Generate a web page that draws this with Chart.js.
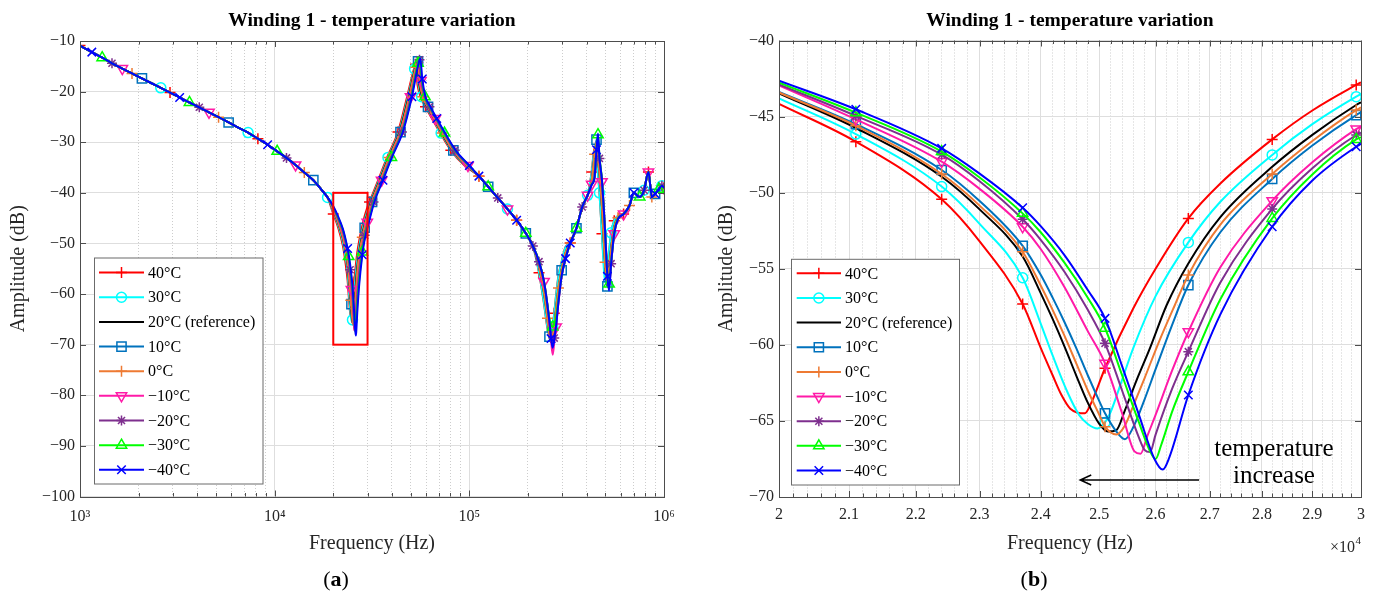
<!DOCTYPE html>
<html><head><meta charset="utf-8">
<script src="https://cdn.jsdelivr.net/npm/chart.js@4.4.1/dist/chart.umd.min.js"></script>
<style>
html,body{margin:0;padding:0;background:#fff;}
#wrap{position:relative;width:1375px;height:595px;overflow:hidden;background:#fff;}
#cA{position:absolute;left:0;top:0;}
#cB{position:absolute;left:690px;top:0;}
.cap{position:absolute;top:566px;font:22px "Liberation Serif","Times New Roman",serif;color:#000;transform:translateX(-50%);white-space:nowrap;}
</style></head>
<body><div id="wrap">
<canvas id="cA" width="690" height="595"></canvas>
<canvas id="cB" width="685" height="595"></canvas>
<div class="cap" style="left:336px">(<b>a</b>)</div>
<div class="cap" style="left:1034px">(<b>b</b>)</div>
</div>
<script>
// ================= DATA =================
const seriesLabels = ['40°C','30°C','20°C (reference)','10°C','0°C','\u221210°C','\u221220°C','\u221230°C','\u221240°C'];
const seriesColors = ['#FF0000','#00FFFF','#000000','#0072BD','#EE7A33','#FF1AA8','#7E2F8E','#00FF00','#0000FF'];
const seriesMarkers = ['cross','circle',null,'rect','cross','triangleDown','star','triangle','crossRot'];

// ---- plot (b): 2e4–3e4 Hz, [frequency Hz, amplitude dB] per series ----
const b40  = [[20000,-44.17],[21100,-46.65],[22400,-50.44],[23000,-53.2],[23700,-57.32],[24000,-60.2],[24200,-62.0],[24350,-63.3],[24500,-64.2],[24750,-64.5],[24850,-63.9],[25100,-61.54],[25600,-57.6],[26000,-55.0],[26600,-51.69],[27200,-49.4],[28200,-46.5],[29000,-44.6],[29900,-42.92],[30000,-42.75]];
const b30  = [[20000,-43.8],[21100,-46.15],[22400,-49.6],[23000,-52.05],[23700,-55.59],[24000,-58.6],[24200,-60.7],[24450,-63.1],[24650,-64.6],[24800,-65.2],[24970,-65.5],[25100,-65.1],[25200,-64.4],[25400,-62.3],[25600,-60.2],[26000,-56.8],[26600,-53.27],[27200,-50.6],[28200,-47.52],[29000,-45.5],[29900,-43.69],[30000,-43.52]];
const b20  = [[20000,-43.47],[21100,-45.75],[22400,-48.95],[23000,-51.1],[23700,-54.2],[24000,-56.6],[24200,-58.3],[24400,-60.1],[24600,-62.0],[24800,-63.8],[25000,-65.2],[25150,-65.7],[25300,-65.6],[25450,-64.3],[25650,-62.4],[25900,-60.2],[26200,-57.4],[26600,-54.65],[27200,-51.6],[28200,-48.3],[29000,-46.2],[29900,-44.24],[30000,-44.06]];
const b10  = [[20000,-43.38],[21100,-45.5],[22400,-48.51],[23000,-50.55],[23700,-53.5],[24000,-55.4],[24200,-56.9],[24400,-58.5],[24600,-60.2],[24800,-62.0],[25000,-63.7],[25100,-64.5],[25300,-65.7],[25450,-66.2],[25600,-65.4],[25800,-63.6],[26000,-61.6],[26300,-58.7],[26600,-56.07],[27200,-52.6],[28200,-49.1],[29000,-46.9],[29900,-44.9],[30000,-44.72]];
const b0   = [[20000,-43.42],[21100,-45.6],[22400,-48.77],[23000,-50.85],[23700,-53.88],[24000,-56.1],[24200,-57.7],[24400,-59.4],[24600,-61.2],[24800,-63.0],[25000,-64.6],[25100,-65.38],[25300,-65.9],[25450,-65.3],[25600,-64.0],[25800,-62.2],[26050,-59.9],[26350,-57.4],[26600,-55.41],[27200,-52.1],[28200,-48.77],[29000,-46.6],[29900,-44.57],[30000,-44.4]];
const bm10 = [[20000,-42.95],[21100,-45.18],[22400,-47.96],[23000,-49.75],[23700,-52.24],[24000,-53.7],[24400,-56.2],[24800,-59.1],[25100,-61.21],[25400,-64.5],[25620,-67.0],[25730,-67.15],[25850,-66.0],[26000,-64.6],[26300,-61.7],[26600,-59.14],[27200,-54.9],[28200,-50.53],[29000,-48.0],[29900,-45.82],[30000,-45.65]];
const bm20 = [[20000,-42.88],[21100,-44.95],[22400,-47.5],[23000,-49.25],[23700,-51.75],[24000,-53.1],[24400,-55.2],[24800,-57.7],[25100,-59.9],[25400,-63.0],[25700,-66.1],[25800,-66.9],[25900,-67.05],[26000,-65.9],[26300,-62.9],[26600,-60.45],[27200,-55.9],[28200,-51.07],[29000,-48.4],[29900,-46.21],[30000,-46.05]];
const bm30 = [[20000,-42.77],[21100,-44.74],[22400,-47.3],[23000,-49.0],[23700,-51.36],[24000,-52.6],[24400,-54.6],[24800,-56.9],[25100,-58.91],[25400,-62.0],[25700,-65.1],[25900,-67.0],[26000,-67.5],[26100,-66.6],[26300,-64.4],[26600,-61.77],[27200,-57.0],[28200,-51.69],[29000,-48.8],[29900,-46.5],[30000,-46.35]];
const bm40 = [[20000,-42.64],[21100,-44.52],[22400,-47.09],[23000,-48.75],[23700,-50.99],[24000,-52.2],[24400,-54.1],[24800,-56.4],[25100,-58.26],[25400,-61.4],[25700,-64.6],[25980,-67.5],[26130,-68.2],[26250,-67.4],[26600,-63.3],[27200,-58.0],[28200,-52.24],[29000,-49.2],[29900,-46.98],[30000,-46.8]];
const bSeries = [b40,b30,b20,b10,b0,bm10,bm20,bm30,bm40];
const markerFreqB = [21100,22400,23700,25100,26600,28200,29900];

// ---- plot (a): 1e3–1e6 Hz ----
const aFreqLow = [1000,1150,1300,1460,1650,1850,2080,2330,2600,2900,3250,3650,4100,4600,5150,5800,6500,7300,8200,9200,10300,11500,12800,14200,15800,17500,18700];
const aAmpLow  = [-10.9,-12.2,-13.3,-14.4,-15.45,-16.4,-17.4,-18.35,-19.25,-20.2,-21.15,-22.15,-23.1,-24.1,-25.05,-26.1,-27.1,-28.1,-29.3,-30.5,-31.8,-33.1,-34.5,-36.0,-37.5,-39.5,-40.9];
const mid40  = [[30720,-41.8],[34030,-37.5],[37810,-33.0],[43010,-28.0],[47920,-21.0],[51800,-15.7],[52930,-14.6],[54160,-18.6],[56240,-21.0],[59550,-23.0],[64270,-25.3],[70890,-28.2],[80340,-31.6],[94520,-34.6]];
const mid30  = [[31040,-41.8],[34380,-37.5],[38200,-33.0],[43460,-28.0],[48420,-21.0],[52340,-15.5],[53490,-14.4],[54730,-18.4],[56830,-21.0],[60170,-23.0],[64950,-25.3],[71630,-28.2],[81180,-31.6],[95510,-34.6]];
const mid20  = [[31280,-41.8],[34650,-37.5],[38500,-33.0],[43790,-28.0],[48800,-21.0],[52740,-15.3],[53900,-14.2],[55150,-18.2],[57270,-21.0],[60640,-23.0],[65450,-25.3],[72180,-28.2],[81810,-31.6],[96250,-34.6]];
const mid10  = [[31650,-41.8],[35050,-37.5],[38950,-33.0],[44300,-28.0],[49370,-21.0],[53360,-15.1],[54530,-14.0],[55790,-18.0],[57940,-21.0],[61340,-23.0],[66210,-25.3],[73030,-28.2],[82770,-31.6],[97370,-34.6]];
const mid0   = [[31460,-41.8],[34850,-37.5],[38720,-33.0],[44050,-28.0],[49080,-21.0],[53050,-15.2],[54210,-14.1],[55470,-18.1],[57600,-21.0],[60990,-23.0],[65830,-25.3],[72600,-28.2],[82280,-31.6],[96810,-34.6]];
const midm10 = [[31990,-41.8],[35430,-37.5],[39370,-33.0],[44780,-28.0],[49900,-21.0],[53940,-14.9],[55120,-13.8],[56400,-17.8],[58560,-21.0],[62010,-23.0],[66930,-25.3],[73820,-28.2],[83660,-31.6],[98430,-34.6]];
const midm20 = [[32190,-41.8],[35650,-37.5],[39620,-33.0],[45060,-28.0],[50210,-21.0],[54270,-14.8],[55460,-13.7],[56750,-17.7],[58930,-21.0],[62390,-23.0],[67350,-25.3],[74280,-28.2],[84180,-31.6],[99040,-34.6]];
const midm30 = [[32310,-41.8],[35790,-37.5],[39770,-33.0],[45240,-28.0],[50410,-21.0],[54480,-14.4],[55680,-13.3],[56970,-17.4],[59160,-21.0],[62640,-23.0],[67610,-25.3],[74570,-28.2],[84510,-31.6],[99420,-34.6]];
const midm40 = [[32500,-41.8],[36000,-37.5],[40000,-33.0],[45500,-28.0],[50700,-21.0],[54800,-14.5],[56000,-13.4],[57300,-17.5],[59500,-21.0],[63000,-23.0],[68000,-25.3],[75000,-28.2],[85000,-31.6],[100000,-34.6]];
const aMid = [mid40,mid30,mid20,mid10,mid0,midm10,midm20,midm30,midm40];
const aFreqH1 = [112000,125000,140000,157000,175000,195000,212000];
const aAmpH1  = [-36.7,-38.8,-41.0,-43.2,-45.4,-48.0,-50.5];
const aFreqDip2 = [228000,242000,252000,258000,263000,268000,273000,279000,287000,298000,312000];
const dip2_40  = [-55.8,-62.0,-66.8,-68.0,-67.6,-66.3,-63.8,-60.2,-56.4,-53.6,-50.7];
const dip2_30  = [-55.7,-61.8,-66.6,-68.3,-67.8,-66.4,-63.9,-60.4,-56.6,-53.7,-50.8];
const dip2_20  = [-54.6,-59.8,-64.9,-68.5,-69.5,-68.6,-66.6,-63.0,-58.9,-55.2,-51.9];
const dip2_10  = [-54.5,-59.6,-64.7,-68.4,-69.3,-68.5,-66.7,-63.1,-59.0,-55.3,-52.0];
const dip2_0   = [-54.6,-59.7,-64.8,-68.3,-68.9,-68.2,-66.5,-62.9,-58.8,-55.1,-51.8];
const dip2_m10 = [-53.6,-57.5,-62.2,-65.6,-69.2,-72.0,-69.6,-66.5,-61.6,-56.5,-53.1];
const dip2_m20 = [-53.6,-57.6,-62.3,-65.5,-68.5,-69.8,-68.7,-66.2,-61.5,-56.4,-53.0];
const dip2_m30 = [-53.5,-57.6,-62.2,-64.9,-66.2,-66.5,-65.8,-64.5,-61.0,-56.3,-53.0];
const dip2_m40 = [-53.6,-57.6,-62.3,-65.5,-68.8,-70.6,-69.0,-66.3,-61.5,-56.4,-53.0];
const aDip2 = [dip2_40,dip2_30,dip2_20,dip2_10,dip2_0,dip2_m10,dip2_m20,dip2_m30,dip2_m40];
const aFreqH2 = [330000,355000,380000,405000];
const aAmpH2  = [-49.9,-47.0,-42.8,-40.5];
const aFreqPeak2 = [425000,440000,450000,458000,466000,480000,498000,512000,522000,535000,555000,580000];
const pk2_40  = [-35.9,-31.0,-33.6,-36.3,-39.9,-48.1,-56.0,-54.5,-51.8,-47.9,-45.5,-44.6];
const pk2_30  = [-36.0,-31.5,-33.8,-36.4,-40.0,-48.2,-57.7,-55.0,-51.8,-47.9,-45.5,-44.6];
const pk2_20  = [-37.6,-32.5,-30.2,-33.5,-36.1,-42.8,-53.8,-58.5,-55.1,-51.0,-46.8,-44.9];
const pk2_10  = [-37.5,-32.2,-29.5,-33.2,-36.0,-42.6,-53.6,-58.5,-55.1,-51.0,-46.8,-44.9];
const pk2_0   = [-37.6,-32.4,-30.0,-33.4,-36.0,-42.7,-53.7,-58.0,-55.0,-51.0,-46.8,-44.9];
const pk2_m10 = [-38.3,-36.8,-32.0,-30.5,-33.5,-37.8,-47.6,-56.0,-58.5,-54.0,-48.1,-45.2];
const pk2_m20 = [-38.4,-36.9,-31.8,-29.5,-33.2,-37.6,-47.5,-56.3,-58.7,-54.0,-48.0,-45.2];
const pk2_m30 = [-38.3,-36.8,-31.2,-28.5,-32.8,-37.4,-47.4,-56.2,-58.0,-53.8,-47.9,-45.1];
const pk2_m40 = [-38.4,-36.9,-31.5,-28.3,-33.0,-37.5,-47.5,-56.5,-59.3,-54.0,-48.0,-45.2];
const aPeak2 = [pk2_40,pk2_30,pk2_20,pk2_10,pk2_0,pk2_m10,pk2_m20,pk2_m30,pk2_m40];
const aFreqH3 = [620000,665000,700000,750000,790000,832000,866000,900000,940000,975000,1000000];
const aAmpH3  = [-44.2,-42.5,-40.0,-40.8,-39.5,-35.9,-40.8,-40.2,-39.3,-38.6,-39.0];

// ---- tick values / labels ----
const aTickMajors = [1000,10000,100000,1000000];
const aTickLabels = ['10\u00B3','10\u2074','10\u2075','10\u2076'];
const aMinorMult = [2,3,4,5,6,7,8,9];
const bTickMajors = [20000,21000,22000,23000,24000,25000,26000,27000,28000,29000,30000];
const bTickLabels = ['2','2.1','2.2','2.3','2.4','2.5','2.6','2.7','2.8','2.9','3'];
const bMinorStep = 200;

// ================= STYLE =================
const FONT = '"Liberation Serif","Times New Roman",serif';
const AXIS = '#4d4d4d', TICK = '#262626', GRID_MAJ = '#dedede', GRID_MIN = '#cdcdcd';
const markerRadius = {cross:5.5, circle:5, rect:6.5, triangle:6, triangleDown:6, star:5, crossRot:6};
// marker stride per data segment of plot (a): low, dip1, mid, H1, dip2, H2, peak2, H3
const segStride = [9, 12, 3, 4, 6, 4, 5, 5];

function buildA(i){
  const pts = [];
  const add = (s, arr) => arr.forEach((p,k)=>pts.push({x:p[0], y:p[1], s, k}));
  add(0, aFreqLow.map((f,k)=>[f,aAmpLow[k]]));
  add(1, bSeries[i]);
  add(2, aMid[i]);
  add(3, aFreqH1.map((f,k)=>[f,aAmpH1[k]]));
  add(4, aFreqDip2.map((f,k)=>[f,aDip2[i][k]]));
  add(5, aFreqH2.map((f,k)=>[f,aAmpH2[k]]));
  add(6, aFreqPeak2.map((f,k)=>[f,aPeak2[i][k]]));
  add(7, aFreqH3.map((f,k)=>[f,aAmpH3[k]]));
  return pts;
}
function dsBase(i, data, radiusFn){
  const m = seriesMarkers[i];
  return {
    label: seriesLabels[i], data,
    borderColor: seriesColors[i], backgroundColor: seriesColors[i], borderWidth: 2,
    pointStyle: m === 'triangleDown' ? 'triangle' : (m || 'circle'),
    rotation: m === 'triangleDown' ? 180 : 0,
    pointRadius: m ? radiusFn : 0, pointHoverRadius: 0,
    pointBorderColor: seriesColors[i], pointBackgroundColor: 'rgba(0,0,0,0)', pointBorderWidth: 1.5,
    cubicInterpolationMode: 'monotone', fill: false, order: 8 - i
  };
}
const aDatasets = seriesLabels.map((_, i) => dsBase(i, buildA(i),
  c => (c.raw && (c.raw.k + i) % segStride[c.raw.s] === 0) ? markerRadius[seriesMarkers[i]] : 0));
const bDatasets = seriesLabels.map((_, i) => dsBase(i, bSeries[i].map(p=>({x:p[0],y:p[1]})),
  c => (c.raw && markerFreqB.includes(c.raw.x)) ? markerRadius[seriesMarkers[i]] : 0));

// tick lists
const ticksA = [];
aTickMajors.forEach((v,k)=>{ ticksA.push({value:v, major:true}); if (k < aTickMajors.length-1) aMinorMult.forEach(m=>ticksA.push({value:v*m, major:false})); });
ticksA.sort((a,b)=>a.value-b.value);
const ticksB = [];
for (let v = bTickMajors[0]; v <= bTickMajors[bTickMajors.length-1]; v += bMinorStep) ticksB.push({value:v, major: bTickMajors.includes(v)});

// ---------- decoration plugin (box, inner ticks, annotations, legend) ----------
const decoCfg = {
  cA: { box:[20000,30000,-40,-70],
        legend:{x:94.5,y:258,w:168.5,h:226,first:272.6,step:24.65,lx1:99,lx2:144,tx:148} },
  cB: { arrow:{f1:26800,f2:24670,db:-68.88},
        texts:[{t:'temperature',f:28236,db:-66.85},{t:'increase',f:28236,db:-68.62}],
        exp:true,
        legend:{x:101.5,y:259.3,w:168,h:225.7,first:273.3,step:24.65,lx1:106.7,lx2:151,tx:155} }
};
function drawMarker(ctx, style, x, y, r){
  ctx.beginPath();
  const s45 = Math.SQRT1_2;
  if (style === 'circle') ctx.arc(x,y,r,0,2*Math.PI);
  else if (style === 'rect') { const s = s45*r; ctx.rect(x-s,y-s,2*s,2*s); }
  else if (style === 'triangle' || style === 'triangleDown') {
    let a = style === 'triangle' ? 0 : Math.PI;
    ctx.moveTo(x+Math.sin(a)*r, y-Math.cos(a)*r); a += 2*Math.PI/3;
    ctx.lineTo(x+Math.sin(a)*r, y-Math.cos(a)*r); a += 2*Math.PI/3;
    ctx.lineTo(x+Math.sin(a)*r, y-Math.cos(a)*r); ctx.closePath();
  }
  if (style === 'cross' || style === 'star') { ctx.moveTo(x-r,y); ctx.lineTo(x+r,y); ctx.moveTo(x,y-r); ctx.lineTo(x,y+r); }
  if (style === 'crossRot' || style === 'star') { const d=r*s45; ctx.moveTo(x-d,y-d); ctx.lineTo(x+d,y+d); ctx.moveTo(x-d,y+d); ctx.lineTo(x+d,y-d); }
  ctx.stroke();
}
const deco = {
  id: 'deco',
  afterDatasetsDraw(chart){
    const cfg = decoCfg[chart.canvas.id];
    const ctx = chart.ctx, ca = chart.chartArea, xs = chart.scales.x, ys = chart.scales.y;
    ctx.save();
    ctx.setLineDash([]);
    ctx.strokeStyle = AXIS; ctx.lineWidth = 1;
    ctx.beginPath();
    xs.ticks.forEach(t=>{ const p = Math.round(xs.getPixelForValue(t.value))+0.5; const L = t.major?6:3.5;
      ctx.moveTo(p,ca.bottom); ctx.lineTo(p,ca.bottom-L); ctx.moveTo(p,ca.top); ctx.lineTo(p,ca.top+L); });
    ys.ticks.forEach(t=>{ const p = Math.round(ys.getPixelForValue(t.value))+0.5;
      ctx.moveTo(ca.left,p); ctx.lineTo(ca.left+6,p); ctx.moveTo(ca.right,p); ctx.lineTo(ca.right-6,p); });
    ctx.stroke();
    const L0 = Math.round(ca.left)+0.5, T0 = Math.round(ca.top)+0.5;
    ctx.strokeRect(L0, T0, Math.round(ca.right)-Math.round(ca.left), Math.round(ca.bottom)-Math.round(ca.top));
    if (cfg.box){
      const [f1,f2,d1,d2] = cfg.box;
      const x1 = xs.getPixelForValue(f1), x2 = xs.getPixelForValue(f2), y1 = ys.getPixelForValue(d1), y2 = ys.getPixelForValue(d2);
      ctx.strokeStyle = '#FF0000'; ctx.lineWidth = 2; ctx.strokeRect(x1,y1,x2-x1,y2-y1);
    }
    if (cfg.arrow){
      const a = cfg.arrow, x1 = xs.getPixelForValue(a.f1), x2 = xs.getPixelForValue(a.f2), y = ys.getPixelForValue(a.db);
      ctx.strokeStyle = '#000'; ctx.lineWidth = 1.5; ctx.beginPath();
      ctx.moveTo(x1,y); ctx.lineTo(x2,y); ctx.moveTo(x2+11,y-5); ctx.lineTo(x2,y); ctx.lineTo(x2+11,y+5); ctx.stroke();
    }
    if (cfg.texts){
      ctx.fillStyle = '#000'; ctx.font = '25px '+FONT; ctx.textAlign = 'center'; ctx.textBaseline = 'middle';
      cfg.texts.forEach(t=>ctx.fillText(t.t, xs.getPixelForValue(t.f), ys.getPixelForValue(t.db)));
    }
    if (cfg.exp){
      ctx.fillStyle = TICK; ctx.font = '16px '+FONT; ctx.textAlign = 'left'; ctx.textBaseline = 'alphabetic';
      const ex = ca.right - 31, ey = 552;
      ctx.fillText('\u00D710', ex, ey); const w = ctx.measureText('\u00D710').width;
      ctx.font = '11px '+FONT; ctx.fillText('4', ex+w+0.5, ey-8);
    }
    if (cfg.legend){
      const g = cfg.legend;
      ctx.fillStyle = '#fff'; ctx.fillRect(g.x, g.y, g.w, g.h);
      ctx.strokeStyle = '#6b6b6b'; ctx.lineWidth = 1; ctx.strokeRect(g.x, g.y, g.w, g.h);
      chart.data.datasets.forEach((ds,i)=>{
        const yy = g.first + i*g.step;
        ctx.strokeStyle = seriesColors[i]; ctx.lineWidth = 2;
        ctx.beginPath(); ctx.moveTo(g.lx1, yy); ctx.lineTo(g.lx2, yy); ctx.stroke();
        const m = seriesMarkers[i];
        if (m){ ctx.lineWidth = 1.5; drawMarker(ctx, m, (g.lx1+g.lx2)/2, yy, markerRadius[m]); }
        ctx.fillStyle = '#000'; ctx.font = '16px '+FONT; ctx.textAlign='left'; ctx.textBaseline='middle';
        ctx.fillText(ds.label, g.tx, yy+1);
      });
    }
    ctx.restore();
  }
};

function makeOptions(o){
  return {
    responsive:false, animation:false, events:[],
    layout:{padding:{left:0,right:o.padRight,top:0,bottom:0}},
    plugins:{
      legend:{display:false}, tooltip:{enabled:false},
      title:{display:true, text:'Winding 1 - temperature variation', color:'#000', fullSize:false,
             font:{family:FONT, size:19.5, weight:'bold'}, padding:{top:9.3, bottom:o.titleBottom}}
    },
    scales:{
      x:{ type:'logarithmic', min:o.xmin, max:o.xmax,
          afterBuildTicks: s => { s.ticks = o.ticks.map(t=>({value:t.value, major:t.major})); },
          afterFit: s => { s.height = o.xh; },
          grid:{ drawTicks:false, lineWidth:1, color: c => (c.tick && c.tick.major) ? GRID_MAJ : GRID_MIN },
          border:{ display:false, dash: c => (c.tick && !c.tick.major) ? [1,2] : [] },
          ticks:{ autoSkip:false, maxRotation:0, minRotation:0, padding:o.xpad, color:TICK, font:{family:FONT,size:16}, callback:o.xlabel },
          title:{ display:true, text:'Frequency (Hz)', color:TICK, font:{family:FONT,size:20}, padding:{top:0,bottom:39.5} } },
      y:{ type:'linear', min:o.ymin, max:o.ymax,
          afterFit: s => { s.width = o.yw; },
          grid:{ drawTicks:false, lineWidth:1, color:GRID_MAJ },
          border:{ display:false },
          ticks:{ stepSize:o.ystep, padding:5, color:TICK, font:{family:FONT,size:16},
                  callback: v => v < 0 ? '\u2212' + Math.abs(v) : String(v) },
          title:{ display:true, text:'Amplitude (dB)', color:TICK, font:{family:FONT,size:20}, padding:{top:o.ytp,bottom:0} } }
    }
  };
}

new Chart(document.getElementById('cA'), {
  type:'line', data:{datasets:aDatasets}, plugins:[deco],
  options: makeOptions({padRight:26, titleBottom:8.3, xmin:1000, xmax:1000000, ticks:ticksA, xh:98.5, xpad:11,
    xlabel: v => { const k = aTickMajors.indexOf(v); return k >= 0 ? aTickLabels[k] : ''; },
    ymin:-100, ymax:-10, ystep:10, yw:80, ytp:7})
});
new Chart(document.getElementById('cB'), {
  type:'line', data:{datasets:bDatasets}, plugins:[deco],
  options: makeOptions({padRight:14, titleBottom:7.8, xmin:20000, xmax:30000, ticks:ticksB, xh:98, xpad:8,
    xlabel: v => { const k = bTickMajors.indexOf(v); return k >= 0 ? bTickLabels[k] : ''; },
    ymin:-70, ymax:-40, ystep:5, yw:89, ytp:25})
});
</script></body></html>
